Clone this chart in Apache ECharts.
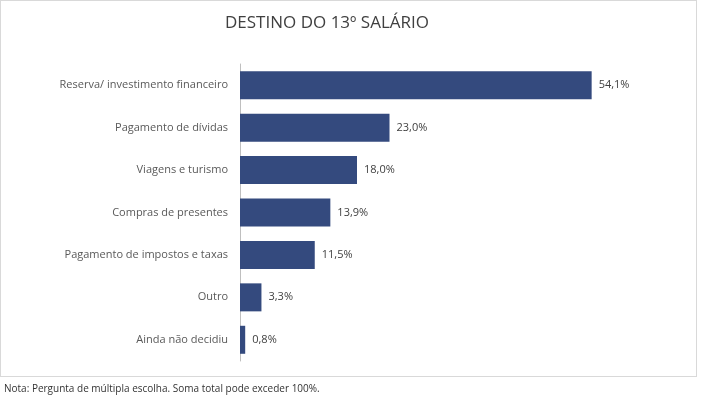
<!DOCTYPE html>
<html lang="pt">
<head>
  <meta charset="UTF-8">
  <title>Destino do 13º salário</title>
  <style>
    body { margin: 0; background: #fff; }
    #frame { position: absolute; left: 0; top: 0; width: 697px; height: 377px; border: 1px solid #d9d9d9; box-sizing: border-box; }
    #main { position: absolute; left: 0; top: 0; width: 705px; height: 416px; }
    #nota { position: absolute; left: 4px; top: 381px; font: 10px "Open Sans", sans-serif; color: #333; }
  </style>
</head>
<body>
  <div id="frame"></div>
  <div id="main"></div>
  <div id="nota">Nota: Pergunta de múltipla escolha. Soma total pode exceder 100%.</div>
  <script src="https://cdn.jsdelivr.net/npm/echarts@6/dist/echarts.min.js"></script>
  <script>
    // categorias (de baixo para cima)
    const categories = ['Ainda não decidiu', 'Outro', 'Pagamento de impostos e taxas', 'Compras de presentes',
      'Viagens e turismo', 'Pagamento de dívidas', 'Reserva/ investimento financeiro'];
    const values = [0.8, 3.3, 11.5, 13.9, 18.0, 23.0, 54.1];

    const chart = echarts.init(document.getElementById('main'));
    chart.setOption({
      title: {
        text: 'DESTINO DO 13º SALÁRIO', left: 322, top: 10, textAlign: 'center',
        textStyle: { fontFamily: 'Open Sans', fontSize: 17, fontWeight: 'normal', color: '#404040' }
      },
      grid: { left: 240, width: 390, top: 64, height: 297 },
      xAxis: { type: 'value', min: 0, max: 60, show: false },
      yAxis: {
        type: 'category', data: categories,
        axisLine: { lineStyle: { color: '#bfbfbf' } }, axisTick: { show: false },
        axisLabel: { fontFamily: 'Open Sans', fontSize: 11, color: '#595959', margin: 12 }
      },
      series: [{
        type: 'bar', data: values, barWidth: 28,
        itemStyle: { color: '#344a7e' },
        label: {
          show: true, position: 'right', distance: 7,
          fontFamily: 'Open Sans', fontSize: 11, color: '#404040',
          formatter: p => p.value.toFixed(1).replace('.', ',') + '%'
        }
      }],
      animation: false
    });
  </script>
</body>
</html>
